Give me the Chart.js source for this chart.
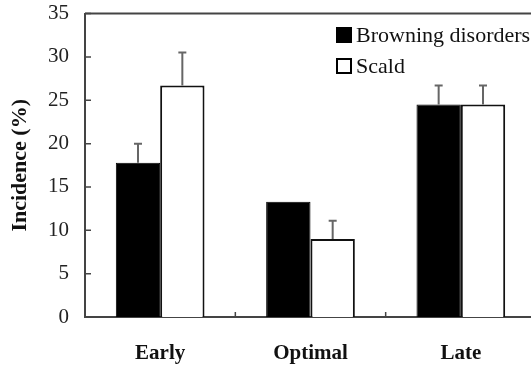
<!DOCTYPE html>
<html>
<head>
<meta charset="utf-8">
<script src="https://cdn.jsdelivr.net/npm/chart.js@4.4.1/dist/chart.umd.min.js"></script>
<style>
  html, body { margin: 0; padding: 0; background: #fff; overflow: hidden; }
  #wrap { position: relative; width: 531px; height: 366px; overflow: hidden; }
  #chart1 { position: absolute; left: 0; top: -15px; }
  #legend { position: absolute; left: 336px; top: 19px; font-family: "Liberation Serif", "Times New Roman", serif; font-size: 22px; color: #111; white-space: nowrap; }
  .item { display: flex; align-items: center; height: 31px; }
  .box { width: 16px; height: 16px; box-sizing: border-box; border: 2px solid #000; margin-right: 4px; }
</style>
</head>
<body>
<div id="wrap">
  <canvas id="chart1" width="540" height="381"></canvas>
  <div id="legend"></div>
</div>
<script>
const categories = ['Early', 'Optimal', 'Late'];
const seriesNames = ['Browning disorders', 'Scald'];
const browning = [17.8, 13.3, 24.5];
const scald = [26.7, 9.0, 24.5];
const browningErr = [2.2, 0, 2.2];
const scaldErr = [3.8, 2.1, 2.2];
const yMin = 0, yMax = 35, yStep = 5;

const serif = "'Liberation Serif', 'Times New Roman', serif";

// error bars + inner ticks + top frame line
const extras = {
  id: 'extras',
  afterDatasetsDraw(chart) {
    const ctx = chart.ctx;
    const y = chart.scales.y;
    ctx.save();
    ctx.strokeStyle = '#666';
    ctx.lineWidth = 2;
    chart.data.datasets.forEach((ds, i) => {
      chart.getDatasetMeta(i).data.forEach((bar, j) => {
        const e = ds.errors[j];
        if (!e) return;
        const y0 = y.getPixelForValue(ds.data[j]);
        const y1 = y.getPixelForValue(ds.data[j] + e);
        ctx.beginPath();
        ctx.moveTo(bar.x, y0);
        ctx.lineTo(bar.x, y1);
        ctx.moveTo(bar.x - 4, y1);
        ctx.lineTo(bar.x + 4, y1);
        ctx.stroke();
      });
    });
    ctx.restore();
  },
  afterDraw(chart) {
    const ctx = chart.ctx;
    const area = chart.chartArea;
    const x = chart.scales.x, y = chart.scales.y;
    ctx.save();
    ctx.strokeStyle = '#444';
    ctx.lineWidth = 1.5;
    ctx.beginPath();
    y.ticks.forEach(t => {
      const py = y.getPixelForValue(t.value);
      ctx.moveTo(area.left, py);
      ctx.lineTo(area.left + 6, py);
    });
    for (let i = 1; i < categories.length; i++) {
      const px = (x.getPixelForValue(i - 1) + x.getPixelForValue(i)) / 2;
      ctx.moveTo(px, area.bottom);
      ctx.lineTo(px, area.bottom - 5);
    }
    ctx.stroke();
    ctx.lineWidth = 2;
    ctx.beginPath();
    ctx.moveTo(area.left, area.top);
    ctx.lineTo(chart.width, area.top);
    ctx.stroke();
    ctx.restore();
  }
};

const chart = new Chart(document.getElementById('chart1'), {
  type: 'bar',
  data: {
    labels: categories,
    datasets: [
      {
        label: seriesNames[0],
        data: browning,
        errors: browningErr,
        backgroundColor: '#000',
        borderColor: '#000',
        borderWidth: 1,
        categoryPercentage: 0.59,
        barPercentage: 1.0
      },
      {
        label: seriesNames[1],
        data: scald,
        errors: scaldErr,
        backgroundColor: '#fff',
        borderColor: '#111',
        borderWidth: 2,
        categoryPercentage: 0.59,
        barPercentage: 1.0
      }
    ]
  },
  options: {
    responsive: false,
    animation: false,
    layout: { padding: { top: 0, right: 4, left: 7, bottom: 0 } },
    plugins: {
      legend: { display: false },
      tooltip: { enabled: false }
    },
    scales: {
      x: {
        grid: { display: false, drawTicks: false },
        border: { display: true, color: '#444', width: 2 },
        ticks: {
          padding: 24,
          color: '#111',
          font: { family: serif, size: 21, weight: 'bold' }
        },
        afterFit(scale) { scale.height = 49; }
      },
      y: {
        min: yMin,
        max: yMax,
        ticks: {
          stepSize: yStep,
          padding: 16,
          color: '#222',
          font: { family: serif, size: 21 }
        },
        grid: { display: false, drawTicks: false },
        border: { display: true, color: '#444', width: 2 },
        title: {
          display: true,
          text: 'Incidence (%)',
          color: '#111',
          padding: { top: 0, bottom: 2 },
          font: { family: serif, size: 22, weight: 'bold' }
        },
        afterFit(scale) { scale.width = 78; }
      }
    }
  },
  plugins: [extras]
});

// legend built from the datasets
const legend = document.getElementById('legend');
chart.data.datasets.forEach(ds => {
  const row = document.createElement('div');
  row.className = 'item';
  const box = document.createElement('span');
  box.className = 'box';
  box.style.background = ds.backgroundColor;
  const txt = document.createElement('span');
  txt.textContent = ds.label;
  row.appendChild(box);
  row.appendChild(txt);
  legend.appendChild(row);
});
</script>
</body>
</html>
